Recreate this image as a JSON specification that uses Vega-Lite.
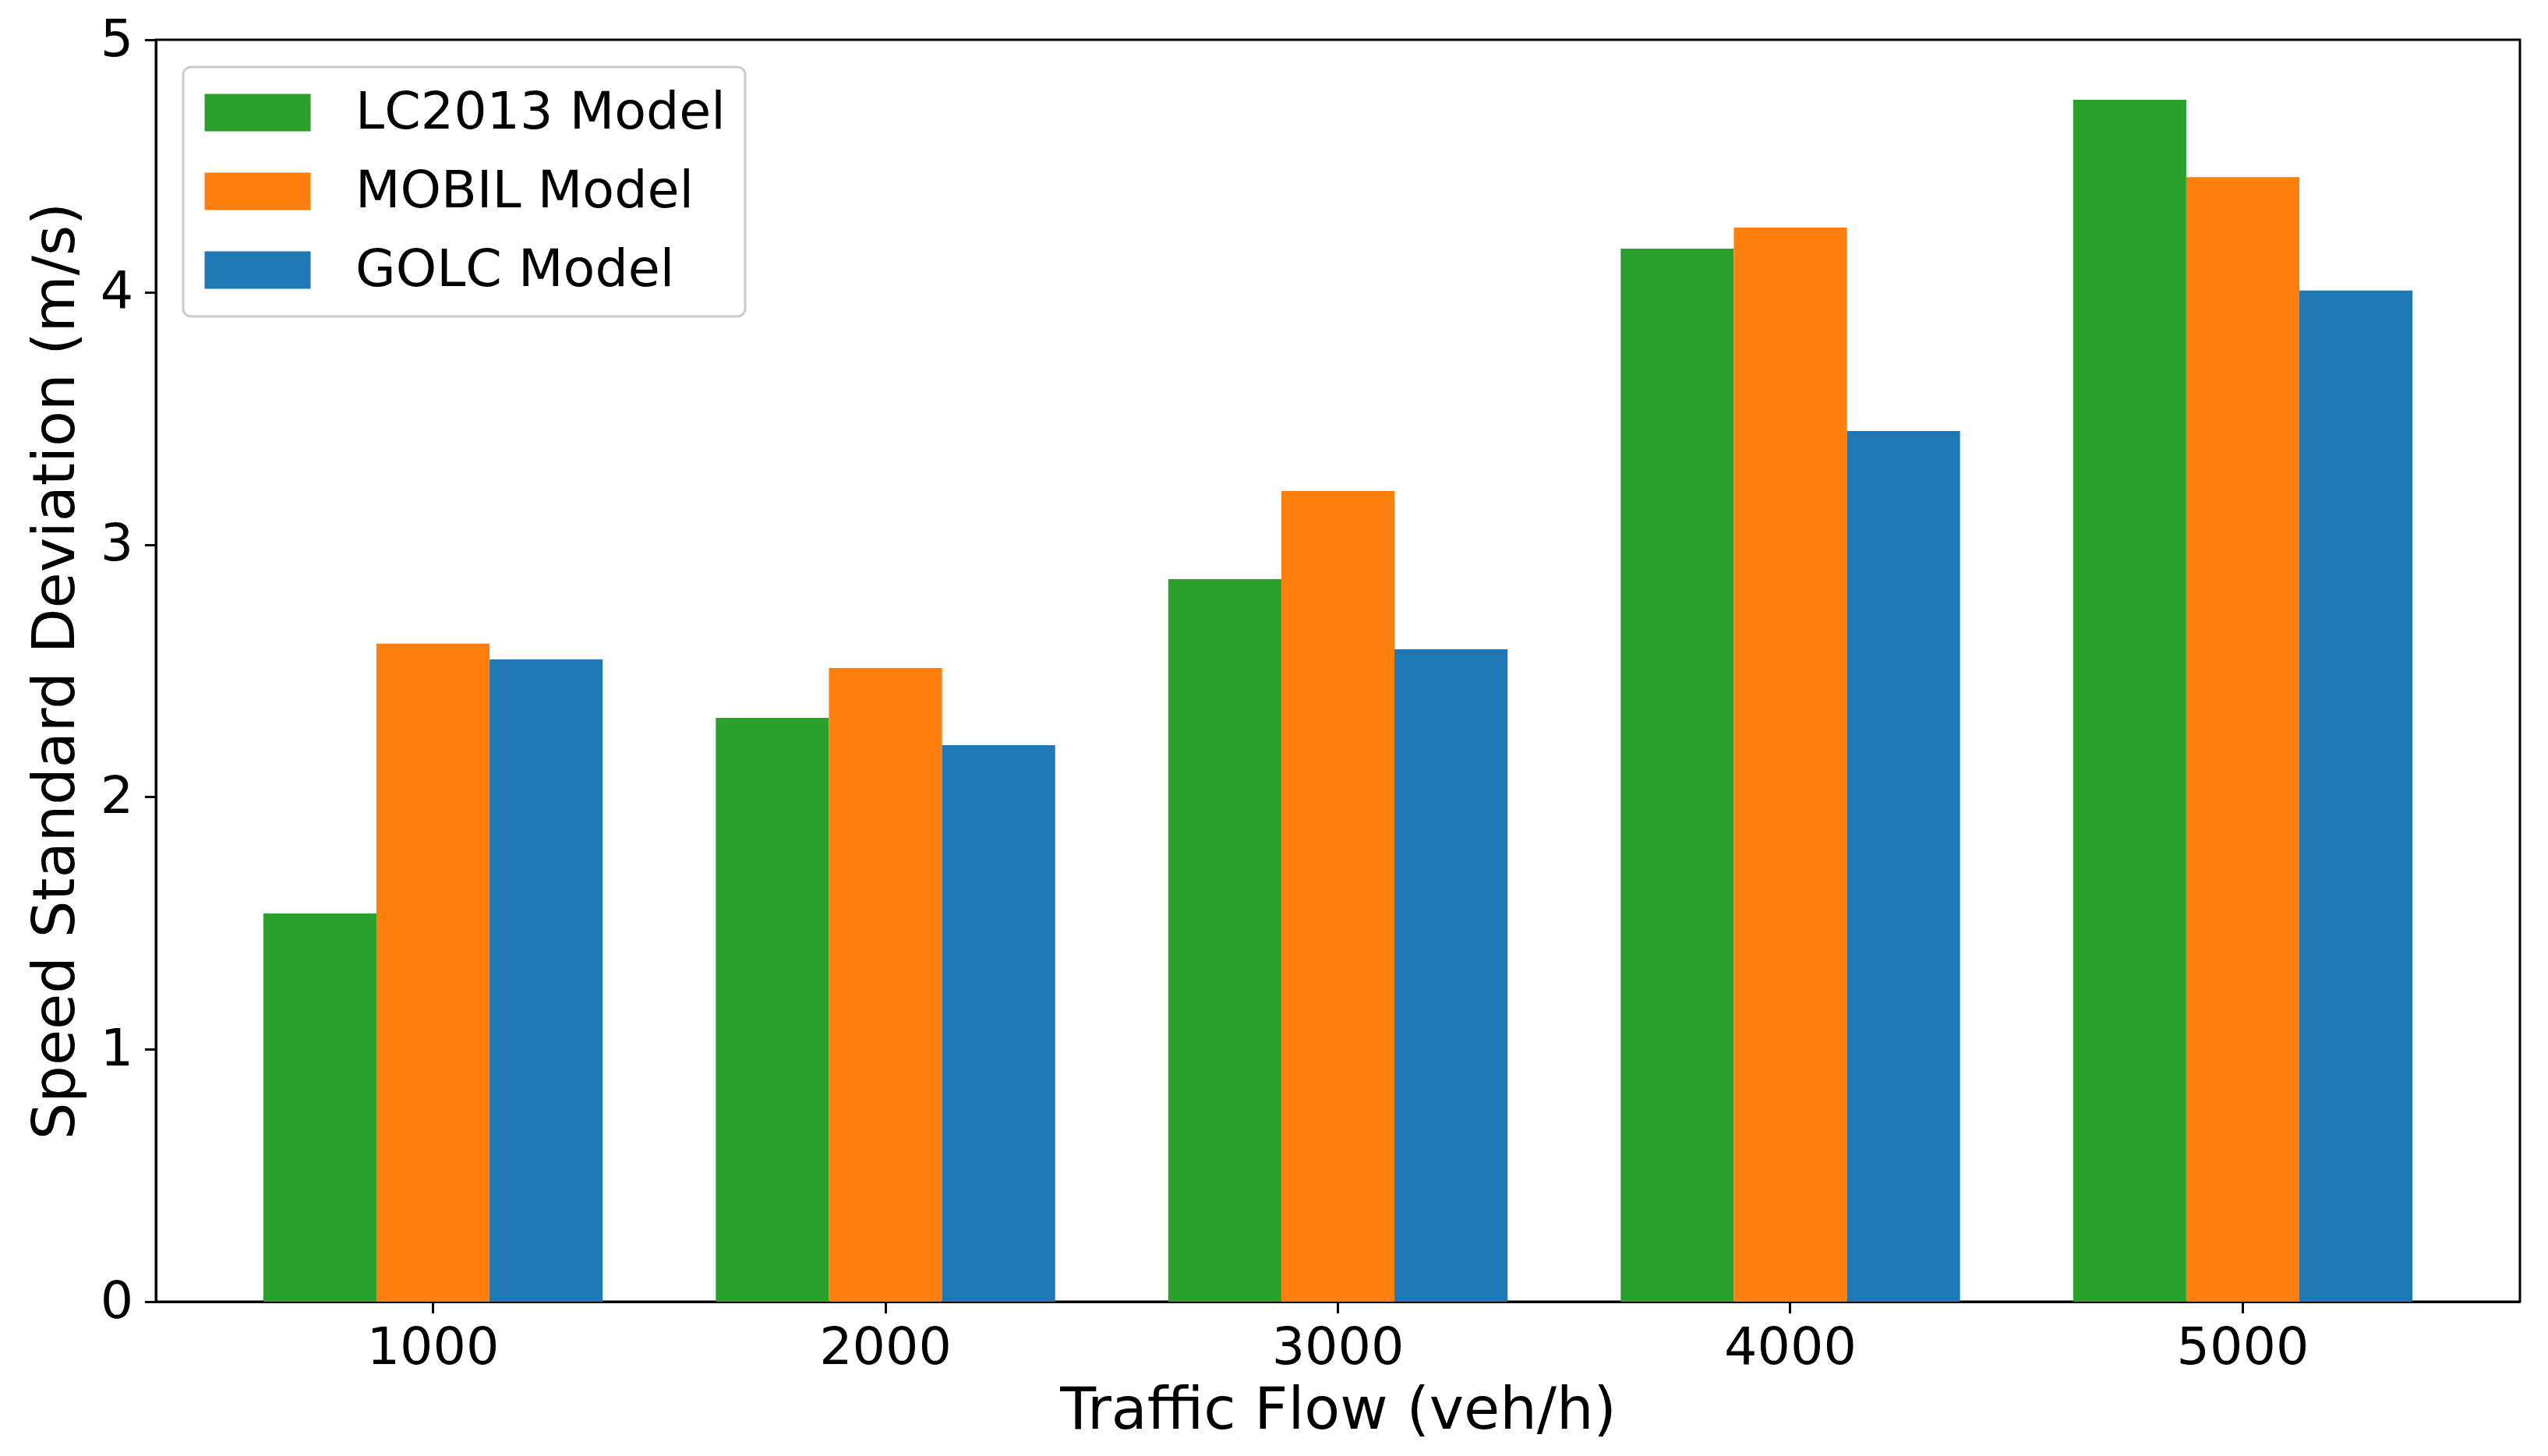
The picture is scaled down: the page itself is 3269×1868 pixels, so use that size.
{
  "$schema": "https://vega.github.io/schema/vega-lite/v6.json",
  "width": 3033,
  "height": 1619,
  "autosize": {"type": "none"},
  "padding": {"left": 200, "top": 51, "right": 36, "bottom": 198},
  "background": "white",
  "config": {
    "font": "DejaVu Sans",
    "view": {"stroke": "black", "strokeWidth": 3},
    "axis": {
      "domainColor": "black",
      "domainWidth": 3,
      "tickColor": "black",
      "tickWidth": 3,
      "tickSize": 14.6,
      "labelFont": "DejaVu Sans",
      "labelFontSize": 66.7,
      "labelColor": "black",
      "labelPadding": 14.6,
      "titleFont": "DejaVu Sans",
      "titleFontSize": 75,
      "titleFontWeight": "normal",
      "titleColor": "black",
      "grid": false
    }
  },
  "data": {
    "values": [
      {"flow": "1000", "model": "LC2013 Model", "std": 1.538},
      {"flow": "1000", "model": "MOBIL Model", "std": 2.607},
      {"flow": "1000", "model": "GOLC Model", "std": 2.545},
      {"flow": "2000", "model": "LC2013 Model", "std": 2.313},
      {"flow": "2000", "model": "MOBIL Model", "std": 2.511},
      {"flow": "2000", "model": "GOLC Model", "std": 2.205},
      {"flow": "3000", "model": "LC2013 Model", "std": 2.863},
      {"flow": "3000", "model": "MOBIL Model", "std": 3.212},
      {"flow": "3000", "model": "GOLC Model", "std": 2.585},
      {"flow": "4000", "model": "LC2013 Model", "std": 4.172},
      {"flow": "4000", "model": "MOBIL Model", "std": 4.256},
      {"flow": "4000", "model": "GOLC Model", "std": 3.45},
      {"flow": "5000", "model": "LC2013 Model", "std": 4.762},
      {"flow": "5000", "model": "MOBIL Model", "std": 4.456},
      {"flow": "5000", "model": "GOLC Model", "std": 4.006}
    ]
  },
  "mark": {"type": "bar"},
  "encoding": {
    "x": {
      "field": "flow",
      "type": "nominal",
      "title": "Traffic Flow (veh/h)",
      "scale": {"paddingInner": 0.25, "paddingOuter": 0.2375},
      "axis": {"labelAngle": 0, "labelPadding": 12, "titlePadding": 10}
    },
    "xOffset": {
      "field": "model",
      "type": "nominal",
      "sort": ["LC2013 Model", "MOBIL Model", "GOLC Model"],
      "scale": {"paddingInner": 0, "paddingOuter": 0}
    },
    "y": {
      "field": "std",
      "type": "quantitative",
      "title": "Speed Standard Deviation (m/s)",
      "scale": {"domain": [0, 5], "nice": false},
      "axis": {"values": [0, 1, 2, 3, 4, 5], "titlePadding": 18}
    },
    "color": {
      "field": "model",
      "type": "nominal",
      "sort": ["LC2013 Model", "MOBIL Model", "GOLC Model"],
      "scale": {
        "domain": ["LC2013 Model", "MOBIL Model", "GOLC Model"],
        "range": ["#2ca02c", "#ff7f0e", "#1f77b4"]
      },
      "legend": {
        "title": null,
        "orient": "top-left",
        "offset": 35,
        "padding": 25,
        "fillColor": "white",
        "strokeColor": "#cccccc",
        "cornerRadius": 10,
        "symbolType": "M-2.03,-0.716L2.03,-0.716L2.03,0.716L-2.03,0.716Z",
        "symbolSize": 4489,
        "symbolOffset": 37,
        "symbolStrokeWidth": 0,
        "symbolOpacity": 1,
        "labelFont": "DejaVu Sans",
        "labelFontSize": 66.7,
        "labelColor": "black",
        "labelOffset": 92,
        "labelLimit": 0,
        "rowPadding": 33,
        "encode": {"legend": {"update": {"strokeWidth": {"value": 3}}}}
      }
    }
  }
}
